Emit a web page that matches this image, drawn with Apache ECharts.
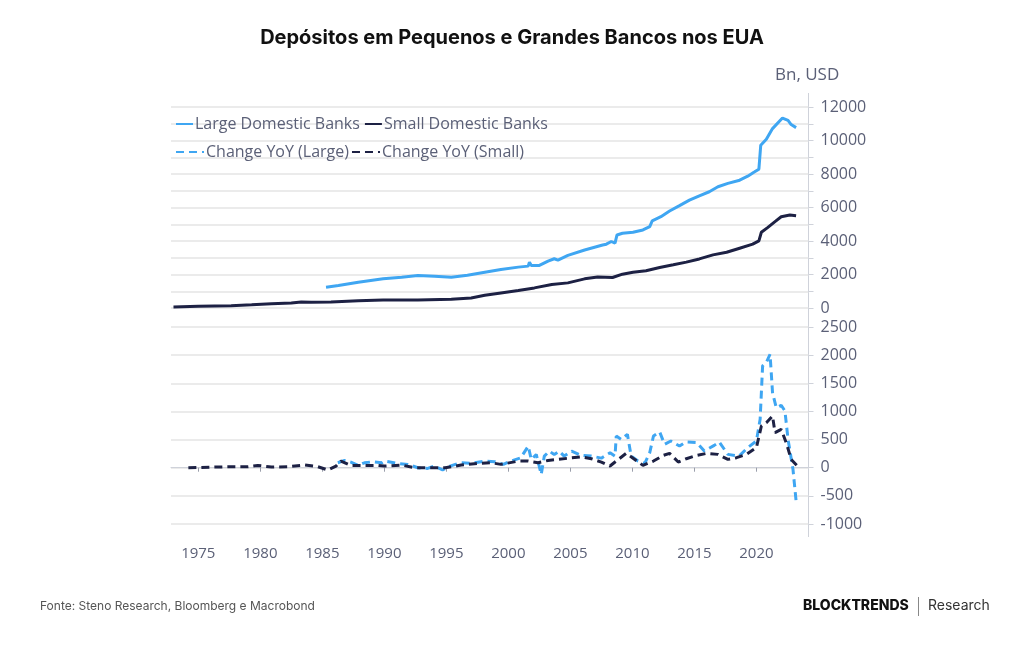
<!DOCTYPE html>
<html>
<head>
<meta charset="utf-8">
<script src="https://cdn.jsdelivr.net/npm/echarts@6/dist/echarts.min.js"></script>
<style>
  html, body { margin: 0; padding: 0; background: #ffffff; }
  #chart { width: 1024px; height: 645px; }
</style>
</head>
<body>
<div id="chart"></div>
<script>
// níveis de depósitos (Bn USD), [ano, valor]
const largeLevel = [
    [1985.3, 1240], [1986.3, 1340], [1987.9, 1540], [1989.9, 1740], [1991.4, 1840],
    [1992.7, 1940], [1994.05, 1900], [1995.4, 1840], [1996.7, 1960], [1998.1, 2140],
    [1999.4, 2300], [2000.8, 2440], [2001.6, 2500], [2001.7, 2740], [2001.85, 2540],
    [2002.5, 2540], [2003.2, 2800], [2003.7, 2940], [2004.0, 2860], [2004.8, 3140],
    [2006.15, 3460], [2007.6, 3760], [2007.9, 3810], [2008.3, 3970], [2008.6, 3870],
    [2008.76, 4360], [2009.2, 4460], [2010.05, 4520], [2010.85, 4660], [2011.4, 4860],
    [2011.6, 5200], [2012.3, 5450], [2013.0, 5790], [2013.8, 6110], [2014.6, 6440],
    [2015.4, 6700], [2016.2, 6940], [2016.9, 7240], [2017.7, 7440], [2018.65, 7630],
    [2019.3, 7870], [2019.86, 8130], [2020.2, 8290], [2020.35, 9720], [2020.8, 10070],
    [2021.3, 10710], [2022.1, 11340], [2022.55, 11200], [2022.8, 10950], [2023.2, 10770]
];
const smallLevel = [
    [1973.0, 60], [1975.0, 100], [1977.65, 140], [1979.3, 200], [1980.9, 260],
    [1982.5, 300], [1983.3, 360], [1984.1, 340], [1985.7, 360], [1987.9, 440],
    [1989.9, 480], [1992.7, 480], [1995.4, 520], [1997.0, 600], [1998.1, 760],
    [1999.4, 900], [2000.8, 1040], [2002.1, 1200], [2003.5, 1400], [2004.8, 1500],
    [2006.15, 1740], [2007.2, 1850], [2008.4, 1820], [2009.2, 2020], [2010.05, 2140],
    [2011.1, 2220], [2012.2, 2420], [2013.3, 2580], [2014.35, 2740], [2015.4, 2930],
    [2016.5, 3170], [2017.6, 3330], [2018.65, 3570], [2019.7, 3810], [2020.2, 4010],
    [2020.4, 4520], [2020.9, 4800], [2021.5, 5160], [2022.0, 5450], [2022.7, 5550],
    [2023.2, 5510]
];

// variação anual (Bn USD), [ano, valor]
const largeYoY = [
    [1986.25, 88], [1986.8, 129], [1987.3, 100], [1987.9, 41], [1988.4, 88],
    [1989.1, 106], [1989.8, 88], [1990.0, 118], [1991.1, 76], [1991.9, 59],
    [1992.7, 0], [1993.5, -12], [1994.05, 29], [1994.7, -41], [1995.3, 29],
    [1996.1, 88], [1997.0, 76], [1998.1, 118], [1998.9, 106], [1999.6, 59],
    [2000.2, 118], [2001.0, 176], [2001.6, 382], [2001.85, 147], [2002.25, 235],
    [2002.65, -118], [2002.9, 206], [2003.3, 294], [2003.7, 235], [2004.1, 294],
    [2004.5, 206], [2005.1, 294], [2005.9, 218], [2006.7, 206], [2007.5, 170],
    [2008.2, 267], [2008.6, 207], [2008.7, 563], [2009.1, 504], [2009.6, 593],
    [2009.9, 207], [2010.45, 119], [2011.0, 77], [2011.4, 267], [2011.7, 563],
    [2012.2, 635], [2012.6, 415], [2013.1, 474], [2013.8, 385], [2014.3, 457],
    [2015.2, 445], [2015.8, 297], [2016.6, 397], [2017.0, 457], [2017.7, 237],
    [2018.6, 207], [2019.3, 356], [2020.0, 474], [2020.3, 860], [2020.5, 1809],
    [2020.8, 1868], [2021.1, 2016], [2021.3, 1334], [2021.6, 1067], [2022.0, 1109],
    [2022.3, 1008], [2022.55, 504], [2022.95, -30], [2023.2, -593]
];
const smallYoY = [
    [1974.2, 0], [1976.3, 12], [1977.65, 18], [1979.0, 18], [1979.8, 41],
    [1980.9, 12], [1982.2, 18], [1983.6, 47], [1984.65, 18], [1985.45, -41],
    [1986.1, 29], [1986.5, 118], [1987.3, 41], [1988.4, 41], [1989.5, 41],
    [1990.0, 29], [1991.4, 47], [1992.4, 0], [1993.5, 0], [1994.9, 0],
    [1996.2, 47], [1997.55, 76], [1998.6, 88], [1999.4, 59], [2000.8, 118],
    [2001.6, 118], [2002.4, 88], [2003.2, 129], [2004.0, 147], [2005.1, 176],
    [2005.9, 194], [2006.7, 159], [2007.5, 100], [2008.2, 30], [2008.7, 119],
    [2009.5, 255], [2010.0, 178], [2010.85, 42], [2011.7, 119], [2012.5, 219],
    [2013.0, 255], [2013.7, 101], [2014.35, 160], [2015.2, 219], [2016.0, 255],
    [2016.9, 237], [2017.7, 148], [2018.4, 178], [2019.2, 237], [2020.0, 356],
    [2020.4, 741], [2020.8, 800], [2021.3, 919], [2021.5, 623], [2022.0, 682],
    [2022.45, 415], [2022.8, 148], [2023.3, 30]
];

const yearTicks = [1975, 1980, 1985, 1990, 1995, 2000, 2005, 2010, 2015, 2020];

const blue = '#3fa6f2';
const navy = '#1d2144';
const labelColor = '#5b6077';
const gridColor = '#e4e4e4';
const axisColor = '#cfd2da';
const font = '"Open Sans", "Noto Sans", sans-serif';

const chart = echarts.init(document.getElementById('chart'));
chart.setOption({
    animation: false,
    backgroundColor: '#ffffff',
    textStyle: { fontFamily: font },
    grid: [
        { left: 171, right: 215.5, top: 107, height: 201 },
        { left: 171, right: 215.5, top: 327, height: 197 }
    ],
    legend: [
        {
            left: 170, top: 111, itemWidth: 17, itemHeight: 14, itemGap: 4,
            itemStyle: { opacity: 0 },
            textStyle: { color: labelColor, fontSize: 16, fontFamily: font, padding: [0, 0, 0, -3] },
            data: ['Large Domestic Banks', 'Small Domestic Banks']
        },
        {
            left: 170, top: 139, itemWidth: 28, itemHeight: 14, itemGap: 2,
            itemStyle: { opacity: 0 },
            textStyle: { color: labelColor, fontSize: 16, fontFamily: font, padding: [0, 0, 0, -3] },
            data: ['Change YoY (Large)', 'Change YoY (Small)']
        }
    ],
    xAxis: [
        {
            type: 'value', gridIndex: 0, min: 1972.8, max: 2024.2,
            show: false, splitLine: { show: false }
        },
        {
            type: 'value', gridIndex: 1, min: 1972.8, max: 2024.2, offset: 13,
            axisLine: { show: true, lineStyle: { color: axisColor, width: 1 } },
            axisTick: { show: true, customValues: yearTicks, length: 4, lineStyle: { color: '#9a9eab' } },
            axisLabel: {
                customValues: yearTicks, color: labelColor, fontSize: 15, margin: 9,
                formatter: v => String(v)
            },
            splitLine: { show: false }
        }
    ],
    yAxis: [
        {
            type: 'value', gridIndex: 0, position: 'right', min: 0, max: 12000, interval: 1000,
            axisLine: { show: false },
            axisTick: { show: true, length: 5, lineStyle: { color: axisColor } },
            axisLabel: {
                color: labelColor, fontSize: 16, margin: 12,
                formatter: v => (v % 2000 === 0 ? String(v) : '')
            },
            splitLine: { lineStyle: { color: gridColor, width: 1.5 } }
        },
        {
            type: 'value', gridIndex: 1, position: 'right', min: -1000, max: 2500, interval: 500,
            axisLine: { show: false },
            axisTick: { show: true, length: 5, lineStyle: { color: axisColor } },
            axisLabel: { color: labelColor, fontSize: 16, margin: 12, formatter: v => String(v) },
            splitLine: { lineStyle: { color: gridColor, width: 1.5 } }
        }
    ],
    series: [
        {
            name: 'Large Domestic Banks', type: 'line', xAxisIndex: 0, yAxisIndex: 0,
            data: largeLevel, symbol: 'none', color: blue,
            lineStyle: { color: blue, width: 3 }
        },
        {
            name: 'Small Domestic Banks', type: 'line', xAxisIndex: 0, yAxisIndex: 0,
            data: smallLevel, symbol: 'none', color: navy,
            lineStyle: { color: navy, width: 3 }
        },
        {
            name: 'Change YoY (Large)', type: 'line', xAxisIndex: 1, yAxisIndex: 1,
            data: largeYoY, symbol: 'none', color: blue,
            lineStyle: { color: blue, width: 3, type: [8, 5] }
        },
        {
            name: 'Change YoY (Small)', type: 'line', xAxisIndex: 1, yAxisIndex: 1,
            data: smallYoY, symbol: 'none', color: navy,
            lineStyle: { color: navy, width: 3, type: [8, 5] }
        }
    ],
    graphic: [
        {
            type: 'text', left: 'center', top: 28,
            style: {
                text: 'Depósitos em Pequenos e Grandes Bancos nos EUA',
                font: 'bold 20px Inter, sans-serif', fill: '#111111'
            }
        },
        {
            type: 'text', left: 775, top: 67,
            style: { text: 'Bn, USD', font: '17px ' + font, fill: labelColor }
        },
        {
            type: 'line', silent: true,
            shape: { x1: 808.5, y1: 93, x2: 808.5, y2: 537 },
            style: { stroke: axisColor, lineWidth: 1 }
        },
        {
            type: 'text', left: 40, top: 600,
            style: { text: 'Fonte: Steno Research, Bloomberg e Macrobond', font: '12px Inter, sans-serif', fill: '#555555' }
        },
        {
            type: 'text', left: 803, top: 599,
            style: { text: 'BLOCKTRENDS', font: '800 14px Inter, sans-serif', fill: '#111111' }
        },
        {
            type: 'line', silent: true,
            shape: { x1: 918.5, y1: 597, x2: 918.5, y2: 616 },
            style: { stroke: '#888888', lineWidth: 1 }
        },
        {
            type: 'text', left: 928, top: 599,
            style: { text: 'Research', font: '14px Inter, sans-serif', fill: '#333333' }
        }
    ]
});
</script>
</body>
</html>
